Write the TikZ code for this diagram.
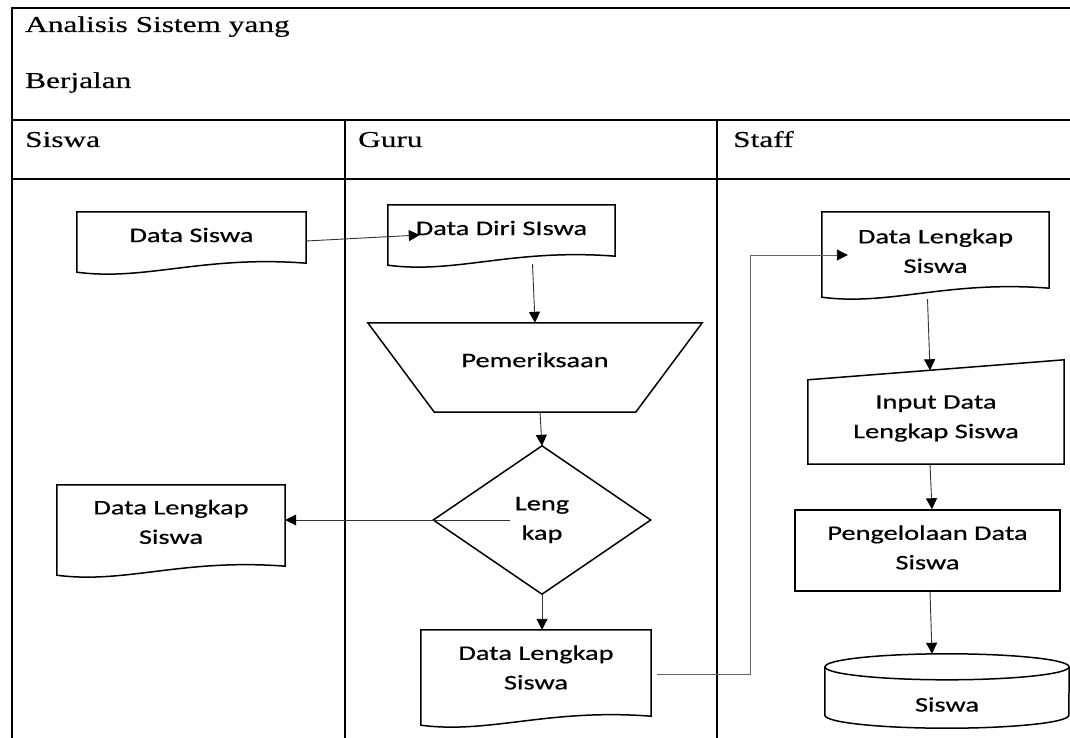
\documentclass[tikz,border=0pt]{standalone}
\usepackage{fontspec}
\setmainfont{Liberation Serif}[FakeStretch=1.38,FakeBold=0.3]
\newfontfamily\calfont{Carlito}[FakeStretch=1.37,FakeBold=0.6]
\usetikzlibrary{calc,arrows.meta}
\newcommand\docoutline[1]{\draw[shp] (#1.north west) -- (#1.north east) -- ($(#1.south east)+(0,-12)$) .. controls ($(#1.south east)!0.45!(#1.south west)+(0,-20)$) and ($(#1.south east)!0.7!(#1.south west)+(0,6)$) .. ($(#1.south west)+(0,-3)$) -- cycle;}
\tikzset{
  frame/.style={draw=black, line width=1.4pt},
  ttl/.style={font=\fontsize{22.7}{27}\selectfont, anchor=base west, inner sep=0pt},
  txt/.style={font=\calfont\fontsize{20.7}{29.5}\selectfont, align=center, text=black, inner sep=0pt},
  shp/.style={draw=black, line width=1.5pt},
  arr/.style={-{Triangle[length=11pt,width=11pt,color=black]}, line width=0.9pt, draw=black!80},
  box/.style={inner sep=0pt, draw=none}
}
\begin{document}
\begin{tikzpicture}[x=1pt, y=-1pt]
\useasboundingbox (0,0) rectangle (1070,738);
% table frame
\draw[frame] (12,738) -- (12,8) -- (1070,8);
\draw[frame] (12,120) -- (1070,120);
\draw[frame] (12,179) -- (1070,179);
\draw[frame] (345,120) -- (345,738);
\draw[frame] (717,120) -- (717,738);
\node[ttl] (t1) at (25,32) {Analisis Sistem yang};
\node[ttl] (t2) at (25,88) {Berjalan};
\node[ttl] (h1) at (25,147) {Siswa};
\node[ttl] (h2) at (358,147) {Guru};
\node[ttl] (h3) at (733,147) {Staff};
% shapes
\node[box, minimum width=229pt, minimum height=63pt, label={[txt,yshift=8.5pt]center:Data Siswa}] (ds) at (191.5,243.5) {};
\docoutline{ds}
\node[box, minimum width=227pt, minimum height=63pt, label={[txt,yshift=8.5pt]center:Data Diri SIswa}] (dd) at (501.5,236.5) {};
\docoutline{dd}
\node[box, minimum width=228pt, minimum height=93pt, label={[txt,yshift=9.5pt]center:{Data Lengkap\\Siswa}}] (dlL) at (171,531.5) {};
\docoutline{dlL}
\node[box, minimum width=230pt, minimum height=98pt, label={[txt,yshift=11.5pt]center:{Data Lengkap\\Siswa}}] (dlG) at (536,679) {};
\docoutline{dlG}
\node[box, minimum width=227pt, minimum height=88pt, label={[txt,yshift=5pt]center:{Data Lengkap\\Siswa}}] (dlS) at (935.5,256) {};
\docoutline{dlS}
\node[box, minimum width=334pt, minimum height=89pt, label={[txt,yshift=7.5pt]center:Pemeriksaan}] (pem) at (535,367.5) {};
\draw[shp] (pem.north west) -- (pem.north east) -- ($(pem.south east)+(-66.5,0)$) -- ($(pem.south west)+(66.5,0)$) -- cycle;
\node[box, minimum width=217pt, minimum height=148pt, label={[txt]center:{Leng\\kap}}] (lk) at (542,520) {};
\draw[shp] (lk.north) -- (lk.east) -- (lk.south) -- (lk.west) -- cycle;
\node[box, minimum width=256pt, minimum height=104pt, label={[txt,yshift=-6.5pt]center:{Input Data\\Lengkap Siswa}}] (inp) at (936,412) {};
\draw[shp] (inp.south west) -- (inp.south east) -- (inp.north east) -- ($(inp.north west)+(0,20)$) -- cycle;
\node[box, shp, minimum width=265pt, minimum height=81pt, label={[txt,yshift=3pt]center:{Pengelolaan Data\\Siswa}}] (proc) at (927.5,550.5) {};
\node[box, minimum width=244pt, minimum height=74pt, label={[txt,yshift=-13.5pt]center:Siswa}] (cyl) at (947,691) {};
\draw[shp] ($(cyl.north)+(0,13)$) ellipse [x radius=122pt, y radius=13pt];
\draw[shp] ($(cyl.north west)+(0,13)$) -- ($(cyl.south west)+(0,-13)$) arc[start angle=180, end angle=360, x radius=122pt, y radius=13pt] -- ($(cyl.north east)+(0,13)$);
% connectors
\draw[arr] ($(ds.east)+(0,-2.5)$) -- ($(dd.west)+(32,-1.5)$);
\draw[arr] ($(dd.south)+(31,-4)$) -- (pem.north);
\draw[arr] ($(pem.south)+(5,0)$) -- (lk.north);
\draw[arr] ($(lk.center)+(-32,0)$) -- (lk.center -| dlL.east);
\draw[arr] (lk.south) -- (lk.south |- dlG.north);
\draw[arr, draw=black!60] ($(dlG.east)+(6,-5)$) -- ++(93,0) |- ($(dlS.west)+(26,-1)$);
\draw[arr] ($(dlS.south)+(-8,-1)$) -- ($(inp.north)+(-6,10.5)$);
\draw[arr] ($(inp.south)+(-6,0)$) -- ($(proc.north)+(4.5,0)$);
\draw[arr] ($(proc.south)+(2.5,0)$) -- ($(cyl.north)+(-15,0)$);
\end{tikzpicture}
\end{document}
